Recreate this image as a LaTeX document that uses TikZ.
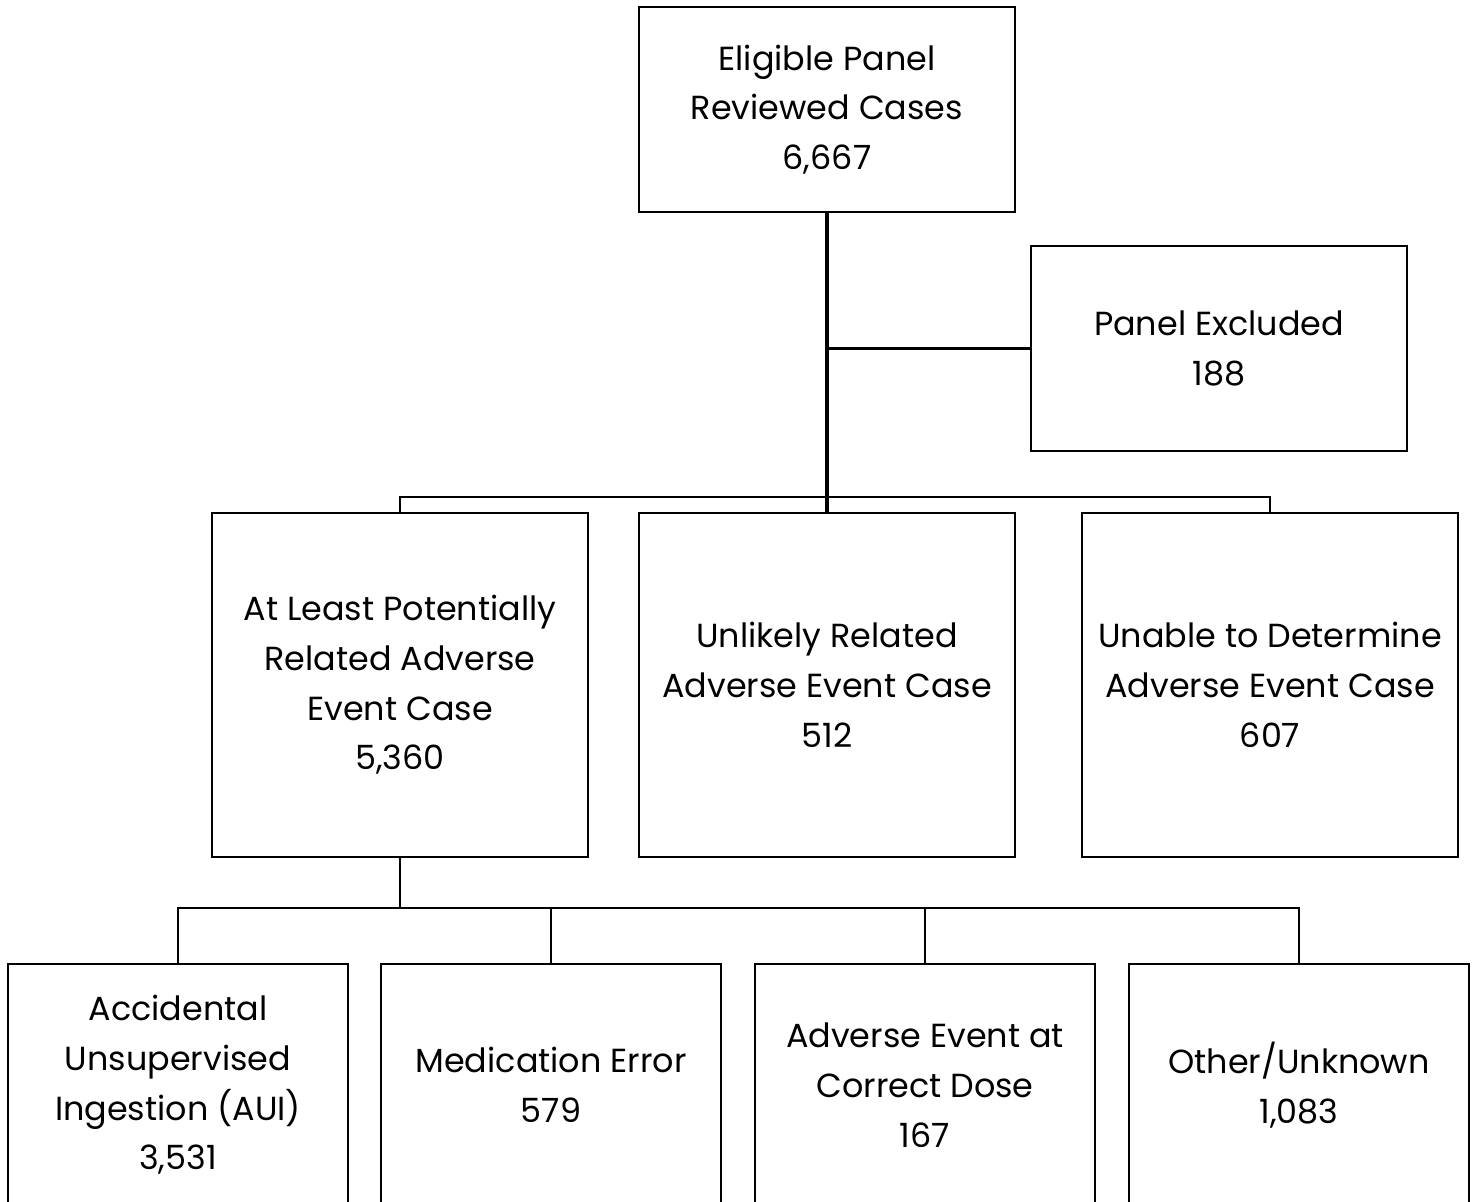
\documentclass[tikz,border=0pt]{standalone}
\usepackage{fontspec}
\setmainfont{Poppins}
\begin{document}
\begin{tikzpicture}[x=0.02cm, y=-0.02cm,
    every node/.style={draw=black, line width=1.1pt, fill=white, align=center, inner sep=0pt,
        font=\fontsize{19}{28.3}\selectfont},
    wide/.style={minimum width=7.52cm, minimum height=4.1cm},
    tall/.style={minimum width=7.52cm, minimum height=6.88cm},
    low/.style={minimum width=6.8cm, minimum height=4.84cm},
    link/.style={line width=1.6pt}]
    \clip (0,0) rectangle (1476,1202);
    \node[wide] (A) at (827,109.5) {Eligible Panel\\Reviewed Cases\\6,667};
    \node[wide] (B) at (1219,348.5) {Panel Excluded\\188};
    \node[tall] (C) at (400,685) {At Least Potentially\\Related Adverse\\Event Case\\5,360};
    \node[tall] (D) at (827,685) {Unlikely Related\\Adverse Event Case\\512};
    \node[tall] (E) at (1270,685) {Unable to Determine\\Adverse Event Case\\607};
    \node[low] (F) at (178,1085) {Accidental\\Unsupervised\\Ingestion (AUI)\\3,531};
    \node[low] (G) at (551,1085) {Medication Error\\579};
    \node[low] (H) at (925,1085) {Adverse Event at\\Correct Dose\\167};
    \node[low] (I) at (1299,1085) {Other/Unknown\\1,083};
    \coordinate (J1) at (827,497);
    \coordinate (J2) at (400,908);
    \draw[link, line width=2.2pt] (A.south) -- (D.north);
    \draw[link] (A.south |- B.west) -- (B.west);
    \draw[link] (C.north) |- (J1) -| (E.north);
    \draw[link] (C.south) -- (J2);
    \draw[link] (F.north) |- (J2) -| (I.north);
    \draw[link] (G.north) -- (G.north |- J2);
    \draw[link] (H.north) -- (H.north |- J2);
\end{tikzpicture}
\end{document}
